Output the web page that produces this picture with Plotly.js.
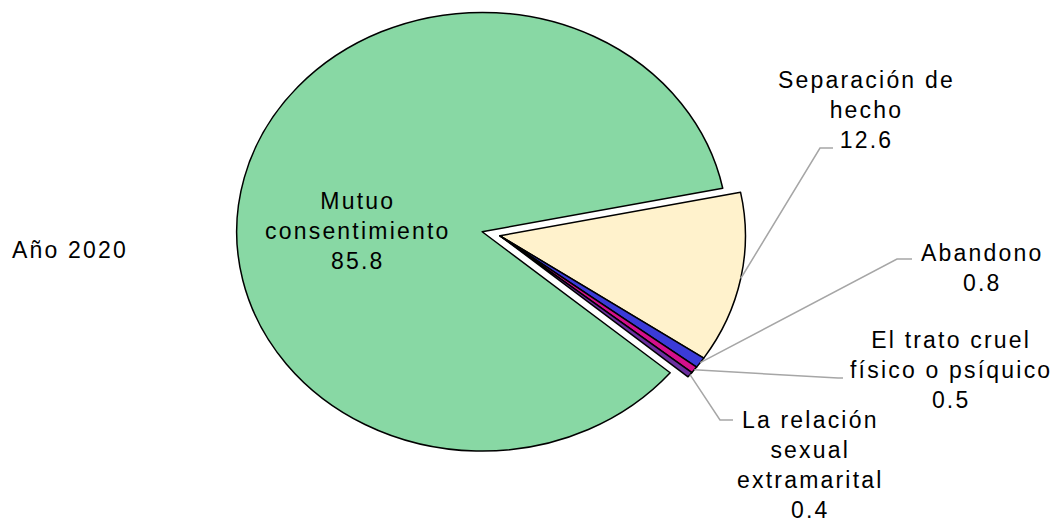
<!DOCTYPE html>
<html>
<head>
<meta charset="utf-8">
<script src="https://cdn.plot.ly/plotly-3.0.1.min.js"></script>
<style>
html,body{margin:0;padding:0;background:#ffffff;}
#chart{width:1061px;height:524px;}
.annotation-text{letter-spacing:2.2px;}
</style>
</head>
<body>
<div id="chart"></div>
<script>
// ---- data ----
const categories = ["Mutuo consentimiento", "Separación de hecho", "Abandono",
  "El trato cruel físico o psíquico", "La relación sexual extramarital"];
const values = [85.8, 12.6, 0.8, 0.5, 0.4];
const labelLines = [["Mutuo", "consentimiento"], ["Separación de", "hecho"], ["Abandono"],
  ["El trato cruel", "físico o psíquico"], ["La relación", "sexual", "extramarital"]];
const yearLabel = "Año 2020";

// ---- styles / placement ----
const colors = ["#88D8A4", "#FFF2CC", "#3B3BD8", "#D4108C", "#6B2FA0"];
const pulls = [0.075, 0, 0, 0, 0];
const rotation = 130;
const ellipseAspect = 1.119;   // horizontal stretch of the pie disc
const fontFamily = "Liberation Sans, Arial, sans-serif";
const fontSize = 23;
const leaderColor = "#A6A6A6";
// text centre, leader elbow and leader end, in pixels
const labelPos = [
  {x: 358, y: 231},
  {x: 866, y: 110, elbow: [820, 148], end: [833, 148]},
  {x: 982, y: 268, elbow: [897, 259], end: [912, 259]},
  {x: 951, y: 370, elbow: [838, 378], end: [843, 378]},
  {x: 810, y: 465, elbow: [720, 420], end: [733, 420]}
];
const yearPos = {x: 70, y: 250};

const W = 1061, H = 524;
const px = x => x / W;
const py = y => 1 - y / H;

const annotations = labelPos.map((p, i) => ({
  xref: "paper", yref: "paper", x: px(p.x), y: py(p.y),
  xanchor: "center", yanchor: "middle", align: "center", showarrow: false,
  text: labelLines[i].join("<br>") + "<br>" + values[i].toFixed(1),
  font: {family: fontFamily, size: fontSize, color: "#000000"}
}));
annotations.push({
  xref: "paper", yref: "paper", x: px(yearPos.x), y: py(yearPos.y),
  xanchor: "center", yanchor: "middle", showarrow: false, text: yearLabel,
  font: {family: fontFamily, size: fontSize, color: "#000000"}
});

const trace = {
  type: "pie",
  labels: categories,
  values: values,
  sort: false,
  direction: "clockwise",
  rotation: rotation,
  pull: pulls,
  textinfo: "none",
  hoverinfo: "label+value",
  marker: {colors: colors, line: {color: "#000000", width: 1.5}},
  domain: {x: [0.2, 0.7425], y: [0.1, 1]},
  showlegend: false
};

const layout = {
  width: W, height: H,
  margin: {l: 0, r: 0, t: 0, b: 0},
  paper_bgcolor: "#ffffff",
  plot_bgcolor: "#ffffff",
  showlegend: false,
  font: {family: fontFamily, size: fontSize, color: "#000000"},
  annotations: annotations
};

const gd = document.getElementById("chart");
Plotly.newPlot(gd, [trace], layout, {staticPlot: true, displayModeBar: false}).then(() => {
  const cd0 = gd.calcdata[0][0];
  const cx = cd0.cx, cy = cd0.cy, r = cd0.r;
  const total = values.reduce((a, b) => a + b, 0);
  let cum = 0;
  const shapes = [];
  values.forEach((v, i) => {
    const mid = (rotation + (cum + v / 2) / total * 360) * Math.PI / 180;
    cum += v;
    const p = labelPos[i];
    if (!p.elbow) return;
    const ax = cx + r * Math.sin(mid) * ellipseAspect;
    const ay = cy - r * Math.cos(mid);
    shapes.push({
      type: "path", xref: "paper", yref: "paper", layer: "above",
      path: "M" + px(ax) + "," + py(ay) + " L" + px(p.elbow[0]) + "," + py(p.elbow[1]) +
            " L" + px(p.end[0]) + "," + py(p.end[1]),
      line: {color: leaderColor, width: 1.5}
    });
  });
  return Plotly.relayout(gd, {shapes: shapes});
}).then(() => {
  const cx = gd.calcdata[0][0].cx;
  gd.querySelectorAll(".pielayer .trace").forEach(g => {
    g.setAttribute("transform", "translate(" + cx + ",0) scale(" + ellipseAspect + ",1) translate(" + (-cx) + ",0)");
  });
  gd.querySelectorAll(".pielayer path.surface").forEach(p => {
    p.style.vectorEffect = "non-scaling-stroke";
  });
});
</script>
</body>
</html>
